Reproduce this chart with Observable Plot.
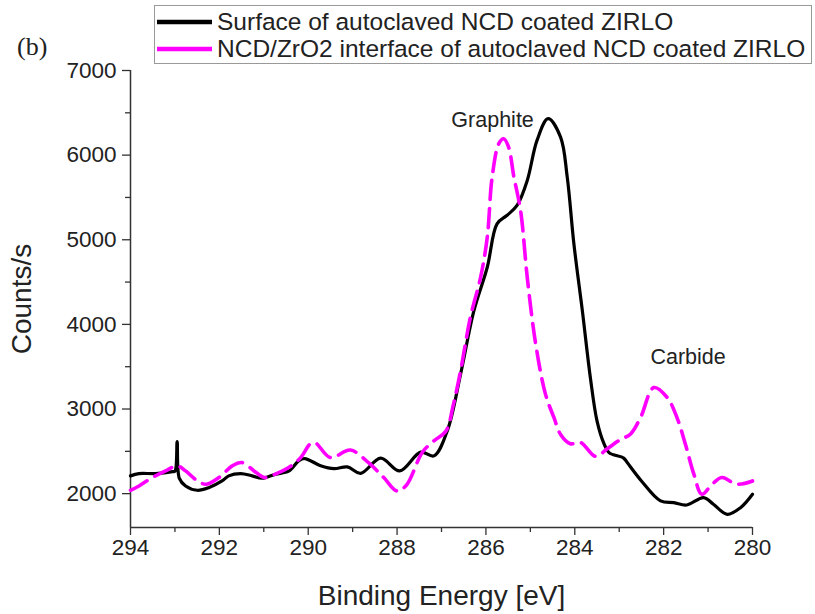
<!DOCTYPE html>
<html>
<head>
<meta charset="utf-8">
<script src="https://cdn.jsdelivr.net/npm/d3@7"></script>
<script src="https://cdn.jsdelivr.net/npm/@observablehq/plot@0.6"></script>
<style>
  body { margin: 0; background: #fff; font-family: "Liberation Sans", Arial, sans-serif; }
  #wrap { position: relative; width: 815px; height: 614px; }
  #tag { position: absolute; left: 17px; top: 33px; font-family: "Liberation Serif", "Times New Roman", serif; font-size: 26px; line-height: 28px; color: #222; }
  #legend { position: absolute; left: 154px; top: 5px; width: 658px; height: 59px; border: 1px solid #999; box-sizing: border-box; background: #fff; }
  .row { position: absolute; left: 2px; height: 28px; display: flex; align-items: center; font-size: 24.5px; color: #222; white-space: nowrap; }
  .row svg { margin-right: 5px; }
</style>
</head>
<body>
<div id="wrap">
  <div id="chart"></div>
  <div id="tag">(b)</div>
  <div id="legend"></div>
</div>
<script>
const seriesNames = ["Surface of autoclaved NCD coated ZIRLO", "NCD/ZrO2 interface of autoclaved NCD coated ZIRLO"];
const seriesColors = ["#000000", "#ff00ff"];

const energyBlack = [294.0, 293.81, 293.44, 293.06, 293.0, 292.95, 292.9, 292.76, 292.5, 292.24, 291.94, 291.79, 291.52, 291.26, 291.04, 290.74, 290.44, 290.21, 290.08, 289.72, 289.42, 289.12, 288.82, 288.37, 287.94, 287.47, 287.17, 286.87, 286.57, 286.27, 285.97, 285.75, 285.53, 285.30, 285.07, 284.85, 284.60, 284.32, 284.17, 284.02, 283.83, 283.65, 283.50, 283.35, 283.23, 282.90, 282.82, 282.50, 282.07, 281.77, 281.48, 281.10, 280.88, 280.57, 280.27, 280.0];
const countsBlack = [2210, 2237, 2237, 2260, 2265, 2615, 2180, 2090, 2040, 2070, 2150, 2210, 2237, 2210, 2182, 2230, 2265, 2390, 2415, 2330, 2295, 2316, 2240, 2420, 2269, 2490, 2446, 2742, 3413, 4162, 4675, 5188, 5286, 5405, 5701, 6174, 6431, 6213, 5740, 4951, 4162, 3373, 2860, 2600, 2485, 2420, 2367, 2150, 1914, 1893, 1866, 1953, 1875, 1756, 1834, 1993];

const energyMagenta = [294.0, 293.81, 293.51, 293.21, 292.95, 292.76, 292.54, 292.31, 292.01, 291.71, 291.49, 291.22, 290.99, 290.74, 290.44, 290.17, 289.95, 289.84, 289.50, 289.05, 288.63, 288.30, 288.0, 287.79, 287.43, 287.17, 286.90, 286.73, 286.57, 286.35, 286.12, 285.97, 285.86, 285.71, 285.60, 285.49, 285.37, 285.22, 285.07, 284.88, 284.66, 284.47, 284.32, 284.10, 283.87, 283.53, 283.27, 282.97, 282.75, 282.52, 282.22, 281.92, 281.70, 281.51, 281.32, 281.14, 280.91, 280.69, 280.35, 280.0];
const countsMagenta = [2040, 2091, 2190, 2269, 2328, 2269, 2170, 2111, 2190, 2328, 2367, 2269, 2190, 2230, 2308, 2426, 2590, 2600, 2426, 2515, 2360, 2190, 2032, 2100, 2490, 2624, 2740, 3058, 3452, 4083, 4556, 5030, 5740, 6135, 6194, 6095, 5740, 5345, 4556, 3768, 3176, 2900, 2700, 2590, 2604, 2440, 2530, 2640, 2702, 2899, 3254, 3136, 2899, 2584, 2230, 1993, 2111, 2190, 2111, 2150];

const xMajorTicks = [294, 292, 290, 288, 286, 284, 282, 280];
const xMinorTicks = [293, 291, 289, 287, 285, 283, 281];
const yMajorTicks = [2000, 3000, 4000, 5000, 6000, 7000];
const yMinorTicks = [2500, 3500, 4500, 5500, 6500];

const annotationLabels = ["Graphite", "Carbide"];
const annotationEnergy = [285.85, 281.45];
const annotationCounts = [6410, 3610];

const black = energyBlack.map((e, i) => ({e, c: countsBlack[i]}));
const magenta = energyMagenta.map((e, i) => ({e, c: countsMagenta[i]}));
const notes = annotationLabels.map((t, i) => ({t, e: annotationEnergy[i], c: annotationCounts[i]}));

const font = "Liberation Sans, Arial, sans-serif";

const chart = Plot.plot({
  width: 815,
  height: 614,
  marginTop: 70,
  marginBottom: 87,
  marginLeft: 130,
  marginRight: 63,
  style: {fontFamily: font, background: "white", color: "#222"},
  x: {domain: [294, 280]},
  y: {domain: [1600, 7000]},
  marks: [
    Plot.axisX({ticks: xMajorTicks, tickSize: 8, tickPadding: 4, fontSize: 22.5, label: null, tickFormat: d3.format("d"), stroke: "#333", strokeWidth: 1.3}),
    Plot.axisX({ticks: xMinorTicks, tickSize: 5, tickFormat: () => "", label: null, stroke: "#333", strokeWidth: 1.3}),
    Plot.axisY({ticks: yMajorTicks, tickSize: 8, tickPadding: 6, fontSize: 22.5, label: null, tickFormat: d3.format("d"), stroke: "#333", strokeWidth: 1.3}),
    Plot.axisY({ticks: yMinorTicks, tickSize: 5, tickFormat: () => "", label: null, stroke: "#333", strokeWidth: 1.3}),
    Plot.ruleX([294], {stroke: "#333", strokeWidth: 1.5}),
    Plot.ruleY([1600], {stroke: "#333", strokeWidth: 1.5}),
    Plot.line(black, {x: "e", y: "c", stroke: seriesColors[0], strokeWidth: 3.2, curve: "catmull-rom"}),
    Plot.line(magenta, {x: "e", y: "c", stroke: seriesColors[1], strokeWidth: 3.6, strokeDasharray: "19,9", curve: "catmull-rom"}),
    Plot.text(notes, {x: "e", y: "c", text: "t", fontSize: 21.5, fill: "#222"}),
    Plot.text(["Counts/s"], {frameAnchor: "left", textAnchor: "middle", lineAnchor: "middle", text: d => d, rotate: -90, dx: -108, fontSize: 28, fill: "#222"}),
    Plot.text(["Binding Energy [eV]"], {frameAnchor: "bottom", textAnchor: "middle", lineAnchor: "middle", text: d => d, dy: 69, fontSize: 28, fill: "#222"})
  ]
});
document.getElementById("chart").appendChild(chart);

const legend = document.getElementById("legend");
seriesNames.forEach((name, i) => {
  const row = document.createElement("div");
  row.className = "row";
  row.style.top = (i === 0 ? 2 : 29) + "px";
  row.innerHTML = `<svg width="55" height="10"><line x1="0" y1="5" x2="55" y2="5" stroke="${seriesColors[i]}" stroke-width="4.5"/></svg><span>${name}</span>`;
  legend.appendChild(row);
});
</script>
</body>
</html>
